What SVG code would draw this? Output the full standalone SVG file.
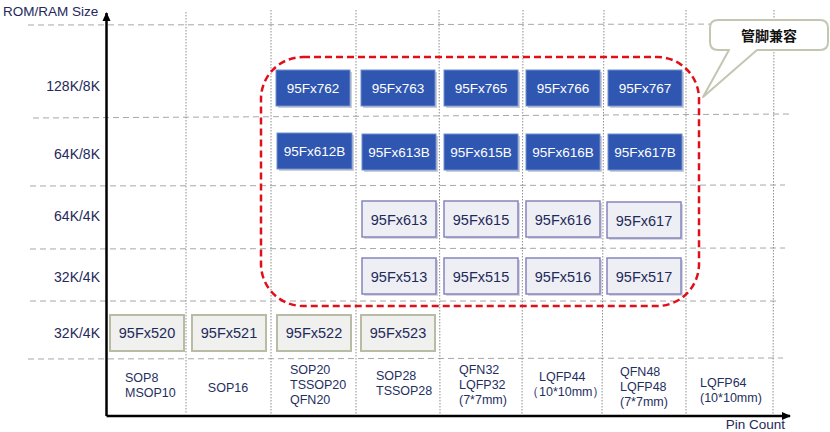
<svg xmlns="http://www.w3.org/2000/svg" width="830" height="432" viewBox="0 0 830 432">
<defs>
<style>
.hg{stroke:#a8a8a8;stroke-width:1;stroke-dasharray:6 4;fill:none}
.vg{stroke:#8c8c8c;stroke-width:1;stroke-dasharray:1.5 1.5;fill:none}
.ax{stroke:#000;stroke-width:2.5;fill:none}
.t{font-family:"Liberation Sans",Arial,sans-serif;fill:#25285a}
.yl{font-size:14px;text-anchor:end}
.pk{font-size:12.5px;fill:#1f3060}
.db rect.b{fill:#2f56b0;stroke:#6f8fcf;stroke-width:1}
.db rect.s{fill:#9aa0b0;opacity:0.5}
.db text{font-family:"Liberation Sans",Arial,sans-serif;font-size:13.5px;fill:#fff;text-anchor:middle}
.lb rect.b{fill:#eeeff4;stroke:#8585bd;stroke-width:1.5}
.lb rect.s{fill:#b0b0c0;opacity:0.5}
.lb text{font-family:"Liberation Sans",Arial,sans-serif;font-size:14.5px;fill:#1e2a5a;text-anchor:middle}
.gb rect.b{fill:#f0f0ef;stroke:#b9bca5;stroke-width:2}
.gb text{font-family:"Liberation Sans",Arial,sans-serif;font-size:14.5px;fill:#1e2a5a;text-anchor:middle}
</style>
<marker id="ah" markerWidth="10" markerHeight="10" refX="8" refY="5" orient="auto" markerUnits="userSpaceOnUse">
<path d="M0,1 L9,5 L0,9 Z" fill="#000"/>
</marker>
</defs>
<rect width="830" height="432" fill="#fff"/>
<g id="grid">
<line class="hg" x1="28" y1="25" x2="800" y2="24"/>
<line class="hg" x1="33" y1="118" x2="790" y2="114"/>
<line class="hg" x1="30" y1="186" x2="785" y2="185"/>
<line class="hg" x1="30" y1="249" x2="785" y2="248"/>
<line class="hg" x1="30" y1="301" x2="780" y2="301"/>
<line class="hg" x1="28" y1="359" x2="783" y2="358"/>
<line class="vg" x1="186" y1="12" x2="186" y2="414"/>
<line class="vg" x1="271" y1="10" x2="271" y2="414"/>
<line class="vg" x1="356" y1="10" x2="356" y2="414"/>
<line class="vg" x1="439" y1="10" x2="440" y2="414"/>
<line class="vg" x1="523" y1="10" x2="522" y2="414"/>
<line class="vg" x1="604" y1="10" x2="602" y2="414"/>
<line class="vg" x1="686" y1="10" x2="686" y2="414"/>
<line class="vg" x1="774" y1="10" x2="773" y2="414"/>
</g>
<g id="axes">
<line class="ax" x1="106.5" y1="416" x2="106.5" y2="13" marker-end="url(#ah)"/>
<line class="ax" x1="106.5" y1="416" x2="790" y2="416" marker-end="url(#ah)"/>
<text class="t" x="3" y="16" font-size="13.5">ROM/RAM Size</text>
<text class="t" x="785" y="429" font-size="13.5" text-anchor="end">Pin Count</text>
</g>
<g id="ylabels" class="t">
<text class="t yl" x="100" y="91">128K/8K</text>
<text class="t yl" x="100" y="159">64K/8K</text>
<text class="t yl" x="100" y="221">64K/4K</text>
<text class="t yl" x="100" y="282">32K/4K</text>
<text class="t yl" x="100" y="338">32K/4K</text>
</g>
<g id="pkg">
<text class="t pk" x="125" y="382">SOP8</text>
<text class="t pk" x="125" y="397">MSOP10</text>
<text class="t pk" x="228" y="392" text-anchor="middle">SOP16</text>
<text class="t pk" x="290" y="374">SOP20</text>
<text class="t pk" x="290" y="389">TSSOP20</text>
<text class="t pk" x="290" y="404">QFN20</text>
<text class="t pk" x="376" y="380">SOP28</text>
<text class="t pk" x="376" y="395">TSSOP28</text>
<text class="t pk" x="459" y="374">QFN32</text>
<text class="t pk" x="459" y="389">LQFP32</text>
<text class="t pk" x="459" y="404">(7*7mm)</text>
<text class="t pk" x="539" y="381">LQFP44</text>
<text class="t pk" x="526" y="396">（10*10mm）</text>
<text class="t pk" x="620" y="376">QFN48</text>
<text class="t pk" x="620" y="391">LQFP48</text>
<text class="t pk" x="620" y="406">(7*7mm)</text>
<text class="t pk" x="700" y="387">LQFP64</text>
<text class="t pk" x="700" y="402">(10*10mm)</text>
</g>
<g id="n762" class="db"><rect class="s" x="278" y="72" width="74" height="36"/><rect class="b" x="276" y="70" width="74" height="36"/><text x="313" y="93">95Fx762</text></g>
<g id="n763" class="db"><rect class="s" x="363" y="72" width="74" height="36"/><rect class="b" x="361" y="70" width="74" height="36"/><text x="398" y="93">95Fx763</text></g>
<g id="n765" class="db"><rect class="s" x="446" y="72" width="74" height="36"/><rect class="b" x="444" y="70" width="74" height="36"/><text x="481" y="93">95Fx765</text></g>
<g id="n766" class="db"><rect class="s" x="528" y="72" width="74" height="36"/><rect class="b" x="526" y="70" width="74" height="36"/><text x="563" y="93">95Fx766</text></g>
<g id="n767" class="db"><rect class="s" x="610" y="72" width="74" height="36"/><rect class="b" x="608" y="70" width="74" height="36"/><text x="645" y="93">95Fx767</text></g>
<g id="n612B" class="db"><rect class="s" x="279" y="135" width="75" height="36"/><rect class="b" x="277" y="133" width="75" height="36"/><text x="314.5" y="156">95Fx612B</text></g>
<g id="n613B" class="db"><rect class="s" x="364" y="136" width="74" height="36"/><rect class="b" x="362" y="134" width="74" height="36"/><text x="399" y="157">95Fx613B</text></g>
<g id="n615B" class="db"><rect class="s" x="446" y="136" width="74" height="36"/><rect class="b" x="444" y="134" width="74" height="36"/><text x="481" y="157">95Fx615B</text></g>
<g id="n616B" class="db"><rect class="s" x="528" y="136" width="74" height="36"/><rect class="b" x="526" y="134" width="74" height="36"/><text x="563" y="157">95Fx616B</text></g>
<g id="n617B" class="db"><rect class="s" x="610" y="136" width="74" height="36"/><rect class="b" x="608" y="134" width="74" height="36"/><text x="645" y="157">95Fx617B</text></g>
<g id="n613" class="lb"><rect class="s" x="364" y="203" width="74" height="36"/><rect class="b" x="362" y="201" width="74" height="36"/><text x="399" y="224.5">95Fx613</text></g>
<g id="n615" class="lb"><rect class="s" x="446" y="203" width="74" height="36"/><rect class="b" x="444" y="201" width="74" height="36"/><text x="481" y="224.5">95Fx615</text></g>
<g id="n616" class="lb"><rect class="s" x="528" y="203" width="74" height="36"/><rect class="b" x="526" y="201" width="74" height="36"/><text x="563" y="224.5">95Fx616</text></g>
<g id="n617" class="lb"><rect class="s" x="609" y="204" width="74" height="36"/><rect class="b" x="607" y="202" width="74" height="36"/><text x="644" y="225.5">95Fx617</text></g>
<g id="n513" class="lb"><rect class="s" x="364" y="260" width="74" height="36"/><rect class="b" x="362" y="258" width="74" height="36"/><text x="399" y="281.5">95Fx513</text></g>
<g id="n515" class="lb"><rect class="s" x="446" y="260" width="74" height="36"/><rect class="b" x="444" y="258" width="74" height="36"/><text x="481" y="281.5">95Fx515</text></g>
<g id="n516" class="lb"><rect class="s" x="528" y="260" width="74" height="36"/><rect class="b" x="526" y="258" width="74" height="36"/><text x="563" y="281.5">95Fx516</text></g>
<g id="n517" class="lb"><rect class="s" x="609" y="260" width="74" height="36"/><rect class="b" x="607" y="258" width="74" height="36"/><text x="644" y="281.5">95Fx517</text></g>
<g id="n520" class="gb"><rect class="b" x="110" y="315" width="74" height="36"/><text x="147" y="338">95Fx520</text></g>
<g id="n521" class="gb"><rect class="b" x="192" y="315" width="74" height="36"/><text x="229" y="338">95Fx521</text></g>
<g id="n522" class="gb"><rect class="b" x="277" y="315" width="74" height="36"/><text x="314" y="338">95Fx522</text></g>
<g id="n523" class="gb"><rect class="b" x="361" y="315" width="74" height="36"/><text x="398" y="338">95Fx523</text></g>
<g id="compat">
<rect x="261" y="57" width="438" height="249" rx="42" ry="42" fill="none" stroke="#e0101a" stroke-width="2.5" stroke-dasharray="7 4"/>
</g>
<g id="callout">
<path d="M718,20 H820 Q828,20 828,28 V42 Q828,50 820,50 H757 L703,97 L729,50 H718 Q710,50 710,42 V28 Q710,20 718,20 Z" fill="#fff" stroke="#c4c6b2" stroke-width="2" stroke-linejoin="round"/>
<text x="769" y="41" font-family="Noto Sans CJK SC,sans-serif" font-size="14" font-weight="bold" fill="#111" text-anchor="middle">管脚兼容</text>
</g>
</svg>
